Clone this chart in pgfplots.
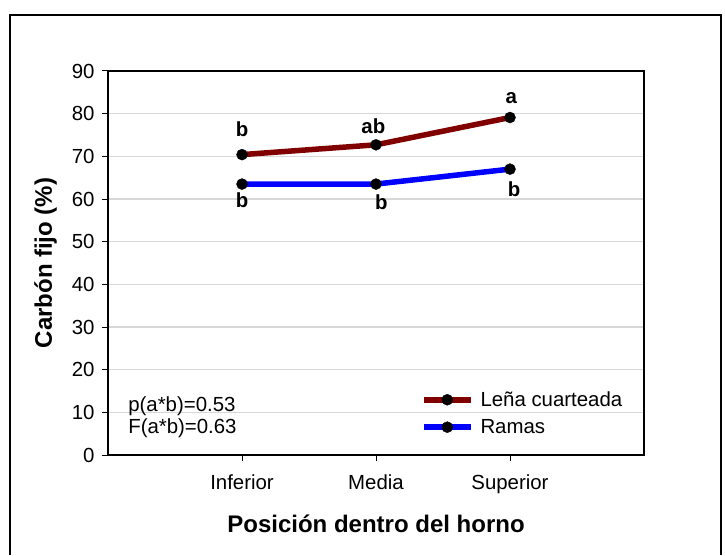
\documentclass[border=0pt]{standalone}
\usepackage{fontspec}
\setmainfont{Liberation Sans}
\usepackage{pgfplots}
\pgfplotsset{compat=1.18}
\definecolor{lena}{RGB}{128,0,0}
\definecolor{ramas}{RGB}{0,0,255}
\definecolor{gridc}{RGB}{215,215,215}
\newcommand{\tfont}{\fontsize{20.4}{24}\selectfont}
\newcommand{\lfont}{\fontsize{24}{28}\selectfont\bfseries}
\begin{document}
\begin{tikzpicture}
\useasboundingbox (0,0) rectangle (725pt,555pt);
\draw[line width=2pt] (10pt,0pt) -- (10pt,540pt) -- (721pt,540pt) -- (721pt,0pt);
\begin{axis}[
  at={(108pt,100pt)}, anchor=south west,
  scale only axis, width=536pt, height=384pt,
  xmin=0, xmax=4, ymin=0, ymax=90,
  xtick={1,2,3}, xticklabels={Inferior,Media,Superior},
  ytick={0,10,...,90},
  xtick pos=bottom, ytick pos=left,
  tick align=outside, major tick length=6pt,
  tick style={black, line width=1pt},
  axis line style={black, line width=1.3pt},
  ymajorgrids, grid style={gridc, line width=1.5pt},
  /pgf/number format/assume math mode=true,
  tick label style={font=\tfont},
  yticklabel style={xshift=-4pt},
  xticklabel style={yshift=-10pt},
  xlabel={Posición dentro del horno},
  ylabel={Carbón fijo (\%)},
  label style={font=\lfont},
  xlabel style={yshift=-14pt},
  ylabel style={yshift=8pt},
  legend style={draw=none, fill=none, font=\tfont, at={(0.578,0.176)}, anchor=north west, row sep=7.5pt, column sep=5pt},
  legend cell align=left,
  legend image code/.code={\draw[mark repeat=2,mark phase=2,#1] plot coordinates {(0pt,0pt) (23.5pt,0pt) (47pt,0pt)};},
  clip=false,
]
\addplot[lena, line width=5.5pt, mark=*, mark size=5.5pt, mark options={solid, fill=black, draw=black, line width=0.4pt}] coordinates {(1,70.4) (2,72.7) (3,79.1)};
\addlegendentry{Leña cuarteada}
\addplot[ramas, line width=5.5pt, mark=*, mark size=5.5pt, mark options={solid, fill=black, draw=black, line width=0.4pt}] coordinates {(1,63.5) (2,63.5) (3,67.0)};
\addlegendentry{Ramas}
\node[font=\tfont\bfseries] at (axis cs:1,76.3) {b};
\node[font=\tfont\bfseries] at (axis cs:1.98,77.1) {ab};
\node[font=\tfont\bfseries] at (axis cs:3.01,83.7) {a};
\node[font=\tfont\bfseries] at (axis cs:1,59.8) {b};
\node[font=\tfont\bfseries] at (axis cs:2.04,59.3) {b};
\node[font=\tfont\bfseries] at (axis cs:3.03,62.2) {b};
\node[font=\tfont, anchor=west, inner sep=0pt] at (axis cs:0.15,11.5) {p(a*b)=0.53};
\node[font=\tfont, anchor=west, inner sep=0pt] at (axis cs:0.15,6.3) {F(a*b)=0.63};
\end{axis}
\end{tikzpicture}
\end{document}
